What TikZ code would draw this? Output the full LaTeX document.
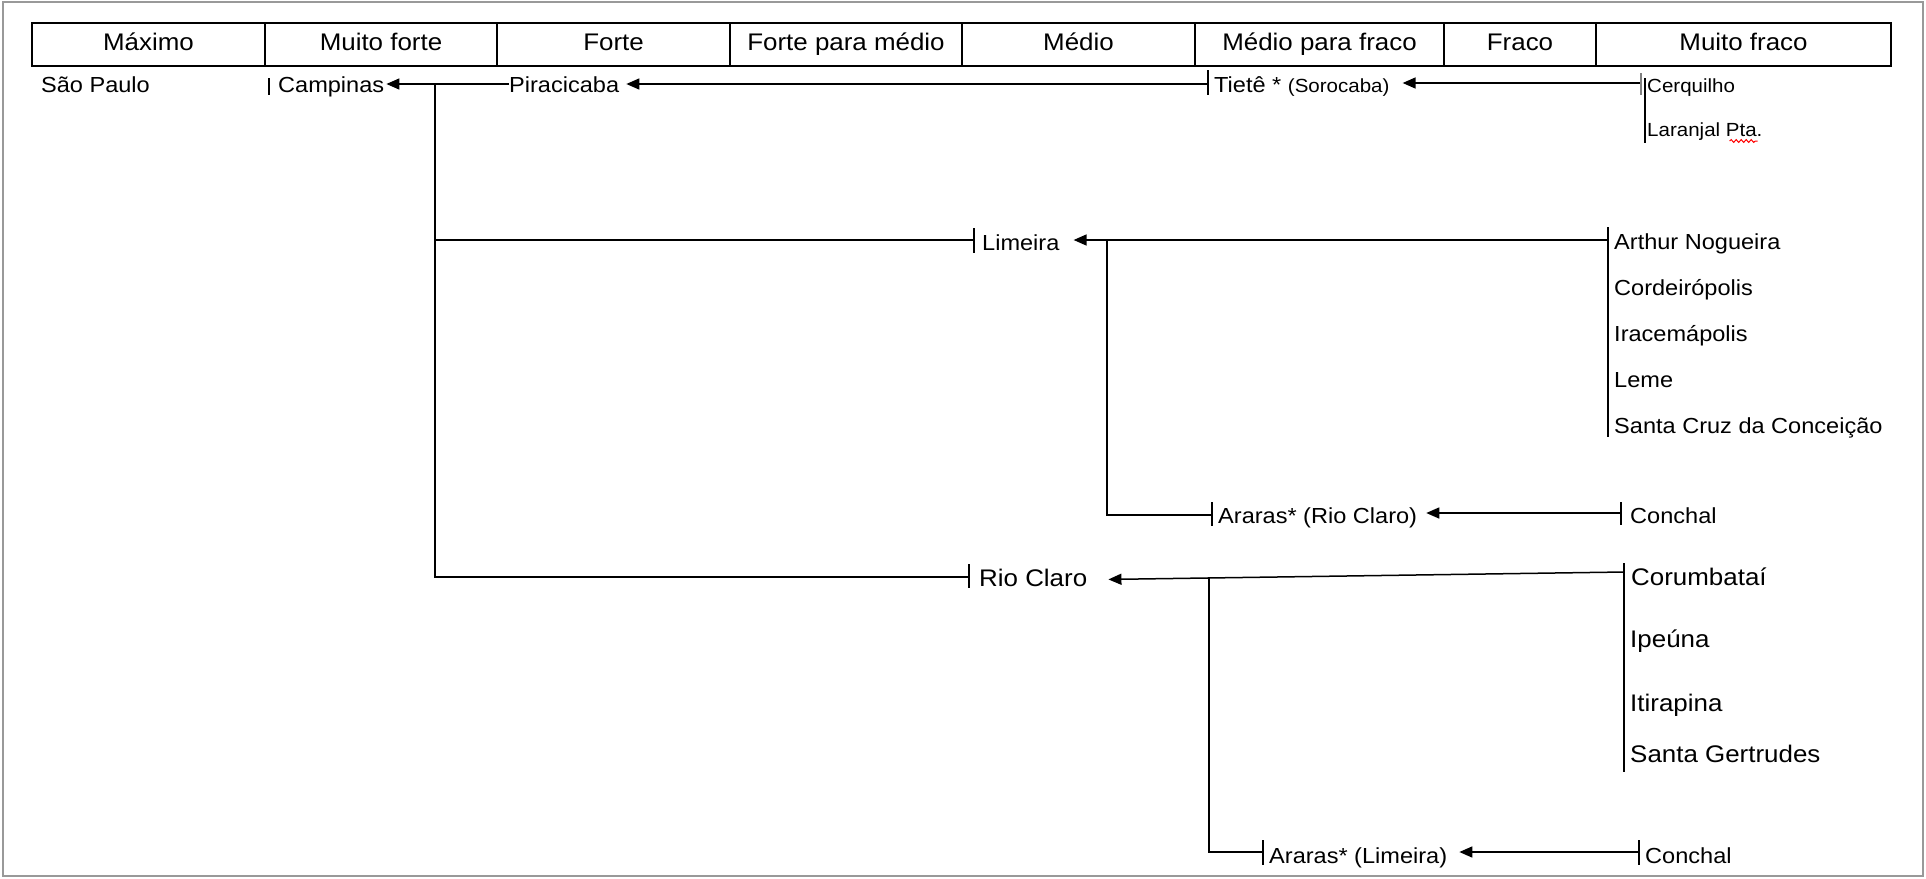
\documentclass[tikz,border=0pt]{standalone}
\usepackage{fontspec}
\setmainfont[FakeStretch=1.08]{Liberation Sans}
\usetikzlibrary{arrows.meta,calc,decorations.pathmorphing}
\begin{document}
\begin{tikzpicture}[x=1pt,y=-1pt,
  lbl/.style={anchor=base west,inner sep=0pt,font=\fontsize{21.8}{25}\selectfont},
  biglbl/.style={lbl,font=\fontsize{24}{28}\selectfont},
  smalllbl/.style={lbl,font=\fontsize{19}{22}\selectfont},
  hdr/.style={anchor=base,inner sep=0pt,font=\fontsize{24}{28}\selectfont},
  ln/.style={line width=1.5pt},
  tk/.style={line width=1.1pt},
  arr/.style={ln,-{Triangle[length=13pt,width=11pt]}}
]
\useasboundingbox (0,0) rectangle (1926,878);
\draw[gray!80,line width=2pt] (3,2) rectangle (1923,876);

% header table
\draw[ln] (32,23) rectangle (1891,66);
\foreach \x in {265,497,730,962,1195,1444,1596} \draw[ln] (\x,23) -- (\x,66);
\node[hdr] (h1) at (148.5,50) {Máximo};
\node[hdr] (h2) at (381,50) {Muito forte};
\node[hdr] (h3) at (613.5,50) {Forte};
\node[hdr] (h4) at (846,50) {Forte para médio};
\node[hdr] (h5) at (1078.5,50) {Médio};
\node[hdr] (h6) at (1319.5,50) {Médio para fraco};
\node[hdr] (h7) at (1520,50) {Fraco};
\node[hdr] (h8) at (1743.5,50) {Muito fraco};

% row 1
\node[lbl] (sp) at (41,92) {São Paulo};
\node[lbl] (camp) at (278,92) {Campinas};
\node[lbl] (pira) at (509,92) {Piracicaba};
\node[lbl] (tiete) at (1214,92) {Tietê * {\fontsize{19}{22}\selectfont (Sorocaba)}};
\node[smalllbl] (cerq) at (1647,92) {Cerquilho};
\node[smalllbl] (lar) at (1647,136) {Laranjal Pta.};

\coordinate (row1) at (0,84);
\coordinate (campT) at (269,84);
\coordinate (J1) at (435,84);
\coordinate (tieT) at (1208,84);
\coordinate (cerT) at (1641,83);
\coordinate (cerV) at (1645,78);

\draw[tk] ($(campT)+(0,-6)$) -- ($(campT)+(0,11)$);
\draw[arr] (pira.west |- row1) -- ($(camp.east |- row1)+(2,0)$);
\draw[arr] (tieT) -- ($(pira.east |- row1)+(7,0)$);
\draw[tk] ($(tieT)+(0,-14)$) -- ($(tieT)+(0,11)$);
\draw[arr] (cerT) -- ($(tiete.east |- cerT)+(13,0)$);
\draw[tk,gray] ($(cerT)+(0,-10)$) -- ($(cerT)+(0,12)$);
\draw[ln] (cerV) -- ($(cerV)+(0,65)$);
\draw[red,line width=1pt,decorate,decoration={snake,amplitude=1.4pt,segment length=5pt}]
  ($(lar.base east)+(-33,5)$) -- ($(lar.base east)+(-5,5)$);

% Limeira branch
\coordinate (limT) at (974,240);
\coordinate (limV) at (1608,240);
\coordinate (J2) at (1107,240);
\node[lbl] (lim) at (982,250) {Limeira};
\draw[ln] (J1 |- limT) -- (limT);
\draw[tk] ($(limT)+(0,-12)$) -- ($(limT)+(0,13)$);
\draw[arr] (limV) -- ($(lim.east |- limV)+(14,0)$);
\draw[ln] ($(limV)+(0,-13)$) -- ($(limV)+(0,197)$);
\node[lbl] (arthur) at (1614,249) {Arthur Nogueira};
\node[lbl] (cord) at (1614,295) {Cordeirópolis};
\node[lbl] (irac) at (1614,341) {Iracemápolis};
\node[lbl] (leme) at (1614,387) {Leme};
\node[lbl] (scruz) at (1614,433) {Santa Cruz da Conceição};

% Araras (Rio Claro)
\coordinate (arT) at (1212,515);
\coordinate (conT) at (1621,513);
\node[lbl] (ararc) at (1218,523) {Araras* (Rio Claro)};
\node[lbl] (con1) at (1630,523) {Conchal};
\draw[ln] (J2) -- (J2 |- arT) -- (arT);
\draw[tk] ($(arT)+(0,-13)$) -- ($(arT)+(0,11)$);
\draw[arr] (conT) -- ($(ararc.east |- conT)+(9,0)$);
\draw[tk] ($(conT)+(0,-11)$) -- ($(conT)+(0,12)$);

% Rio Claro branch
\coordinate (rcT) at (969,577);
\coordinate (rcV) at (1624,572);
\node[biglbl] (rc) at (979,586) {Rio Claro};
\draw[ln] (J1) -- (J1 |- rcT) -- (rcT);
\draw[tk] ($(rcT)+(0,-13)$) -- ($(rcT)+(0,11)$);
\draw[arr] (rcV) -- ($(rc.east)+(21,2)$);
\draw[ln] ($(rcV)+(0,-9)$) -- ($(rcV)+(0,200)$);
\node[biglbl] (corum) at (1631,585) {Corumbataí};
\node[biglbl] (ipe) at (1630,647) {Ipeúna};
\node[biglbl] (iti) at (1630,711) {Itirapina};
\node[biglbl] (sger) at (1630,762) {Santa Gertrudes};

% Araras (Limeira)
\coordinate (J3) at (1209,578);
\coordinate (alT) at (1263,852);
\coordinate (con2T) at (1639,852);
\node[lbl] (aralim) at (1269,863) {Araras* (Limeira)};
\node[lbl] (con2) at (1645,863) {Conchal};
\draw[ln] (J3) -- (J3 |- alT) -- (alT);
\draw[tk] ($(alT)+(0,-12)$) -- ($(alT)+(0,13)$);
\draw[arr] (con2T) -- ($(aralim.east |- con2T)+(12,0)$);
\draw[tk] ($(con2T)+(0,-12)$) -- ($(con2T)+(0,13)$);
\end{tikzpicture}
\end{document}
